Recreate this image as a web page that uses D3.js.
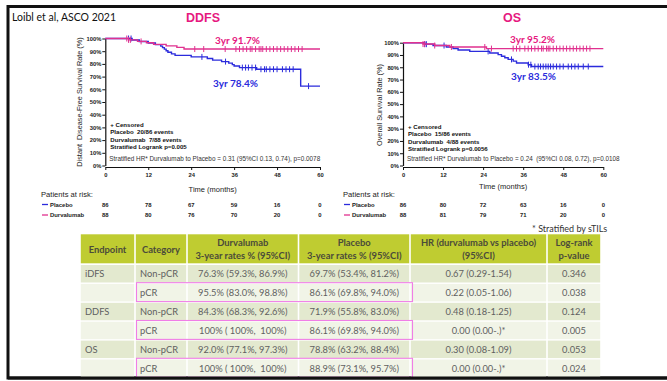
<!DOCTYPE html>
<html><head><meta charset="utf-8">
<script src="https://cdn.jsdelivr.net/npm/d3@7"></script>
<style>body{margin:0;background:#fff}svg{display:block}</style>
</head><body>
<svg id="c" width="667" height="381"></svg>
<script>
// ---------------- DATA ----------------
const monthTicks = [0, 12, 24, 36, 48, 60];
const pctTicks = [0, 10, 20, 30, 40, 50, 60, 70, 80, 90, 100];

// DDFS Kaplan-Meier steps [month, survival %]
const ddfsPlacebo = [[0,100],[7.5,98.8],[9.5,97.6],[12,96.4],[14,95.2],[15.5,94.0],[16,92.8],[16.5,91.6],[17,90.4],[17.5,89.2],[18.5,87.9],[19.5,86.7],[24,85.5],[28.5,84.3],[30,83.0],[32.5,81.8],[34.5,80.6],[35.5,79.4],[36,78.4],[37.5,77.1],[42.3,75.8],[54.6,62.5]];
const ddfsDurvalumab = [[0,100],[6.5,98.9],[9,97.7],[11.5,96.6],[13.5,95.4],[17,94.2],[20,93.0],[22,91.7]];
const ddfsPlaceboCensored = [6.5,7.2,27,33.6,38.3,39.2,40,41,42,43.5,44.5,45,46,47,48,49.5,50.5,51.5,52.5,56.8];
const ddfsDurvalumabCensored = [6,6.5,7,10,25,27.5,33.5,36.5,37.5,38.5,39.5,40.5,41,42,43,43.5,44,45,46,47,48,49,50,51,52,53,54,55];

// OS Kaplan-Meier steps
const osPlacebo = [[0,100],[6.5,98.8],[9,97.7],[13,96.5],[15,95.3],[16.5,94.1],[20,92.9],[26,91.6],[28.5,90.3],[29.5,89.0],[30.5,87.7],[31.5,86.4],[33,85.0],[34,83.5],[37.5,82.1],[38.5,80.6]];
const osDurvalumab = [[0,100],[6,98.9],[9.5,97.7],[14,96.5],[25,95.2]];
const osPlaceboCensored = [6.5,7,12.3,25.5,32.5,37.6,38.3,39.5,40.5,41.2,42,42.8,43.5,44.2,45,46,47,48,49.5,50.5,51.5,52.5,54,55.5];
const osDurvalumabCensored = [6,6.5,9.5,14.5,24.5,26.5,33,34,35,36.5,37.5,38.5,39.5,40.5,41.5,42,43,43.5,44,45,46,47,48,49,50,51,52,53,54,55,56];

// Patients at risk
const riskDdfsPlacebo = [86, 78, 67, 59, 16, 0];
const riskDdfsDurvalumab = [88, 80, 76, 70, 20, 0];
const riskOsPlacebo = [86, 80, 72, 63, 16, 0];
const riskOsDurvalumab = [88, 81, 79, 71, 20, 0];

const ddfsLegend = ["+ Censored", "Placebo  20/86 events", "Durvalumab  7/88 events", "Stratified Logrank p=0.005"];
const ddfsHR = "Stratified HR* Durvalumab to Placebo = 0.31 (95%CI 0.13, 0.74), p=0.0078";
const osLegend = ["+ Censored", "Placebo  15/86 events", "Durvalumab  4/88 events", "Stratified Logrank p=0.0056"];
const osHR = "Stratified HR* Durvalumab to Placebo = 0.24  (95%CI 0.08, 0.72), p=0.0108";

// Table
const tableHeader = [["Endpoint"], ["Category"], ["Durvalumab", "3-year rates % (95%CI)"], ["Placebo", "3-year rates % (95%CI)"], ["HR (durvalumab vs placebo)", "(95%CI)"], ["Log-rank", "p-value"]];
const tableRows = [
  ["iDFS", "Non-pCR", "76.3% (59.3%, 86.9%)", "69.7% (53.4%, 81.2%)", "0.67 (0.29-1.54)", "0.346"],
  ["", "pCR", "95.5% (83.0%, 98.8%)", "86.1% (69.8%, 94.0%)", "0.22 (0.05-1.06)", "0.038"],
  ["DDFS", "Non-pCR", "84.3% (68.3%, 92.6%)", "71.9% (55.8%, 83.0%)", "0.48 (0.18-1.25)", "0.124"],
  ["", "pCR", "100% ( 100%,  100%)", "86.1% (69.8%, 94.0%)", "0.00 (0.00-.)*", "0.005"],
  ["OS", "Non-pCR", "92.0% (77.1%, 97.3%)", "78.8% (63.2%, 88.4%)", "0.30 (0.08-1.09)", "0.053"],
  ["", "pCR", "100% ( 100%,  100%)", "88.9% (73.1%, 95.7%)", "0.00 (0.00-.)*", "0.024"]
];

// ---------------- STYLE ----------------
const BLUE = "#2b2bdc", PINK = "#e0318f", PINK_TXT = "#e6197f";
const SANS = "Liberation Sans, Arial, sans-serif";
const CAL = "Lato, sans-serif";

const svg = d3.select("#c");

// frame
svg.append("path").attr("d", "M667,6.5 H8 V378 H667").attr("fill", "none").attr("stroke", "#111").attr("stroke-width", 3);

svg.append("text").attr("x", 12).attr("y", 21).attr("font-family", CAL).attr("font-size", 10.5).attr("fill", "#111").text("Loibl et al, ASCO 2021");

function stepValue(steps, t) {
  let v = steps[0][1];
  for (const s of steps) { if (s[0] <= t) v = s[1]; }
  return v;
}

function drawKM(cfg) {
  const g = svg.append("g");
  const x = d3.scaleLinear().domain([0, 60]).range([cfg.x0, cfg.x1]);
  const y = d3.scaleLinear().domain([0, 100]).range([cfg.y0, cfg.y1]);

  // title
  g.append("text").attr("x", cfg.titleX).attr("y", 22).attr("text-anchor", "middle")
    .attr("font-family", SANS).attr("font-weight", "bold").attr("font-size", 12.5).attr("fill", PINK_TXT).text(cfg.title);

  // axes
  const ya = g.append("g").attr("transform", `translate(${cfg.x0},0)`)
    .call(d3.axisLeft(y).tickValues(pctTicks).tickFormat(d => d + "%").tickSize(3).tickSizeOuter(0));
  const xa = g.append("g").attr("transform", `translate(0,${cfg.y0 + 1.5})`)
    .call(d3.axisBottom(x).tickValues(monthTicks).tickSize(3).tickSizeOuter(0));
  [ya, xa].forEach(a => {
    a.select(".domain").attr("stroke", "#111").attr("stroke-width", 1.2);
    a.selectAll(".tick line").attr("stroke", "#111").attr("stroke-width", 1);
    a.selectAll("text").attr("font-family", SANS).attr("font-weight", "bold").attr("font-size", 5.8).attr("fill", "#222");
  });
  ya.selectAll("text").attr("x", -4);
  xa.selectAll("text").attr("y", 6);

  // axis titles
  g.append("text").attr("transform", `translate(${cfg.yTitleX},${cfg.yTitleY}) rotate(-90)`)
    .attr("text-anchor", "middle").attr("font-family", SANS).attr("font-size", 7.3).attr("fill", "#222")
    .style("white-space", "pre").text(cfg.yTitle);
  g.append("text").attr("x", (cfg.x0 + cfg.x1) / 2).attr("y", cfg.xTitleY).attr("text-anchor", "middle")
    .attr("font-family", SANS).attr("font-size", 7.5).attr("fill", "#222").text("Time (months)");

  // curves
  const line = d3.line().x(d => x(d[0])).y(d => y(d[1])).curve(d3.curveStepAfter);
  const series = [
    {steps: cfg.placebo, cens: cfg.placeboCens, color: BLUE},
    {steps: cfg.durva, cens: cfg.durvaCens, color: PINK}
  ];
  series.forEach(s => {
    const pts = s.steps.concat([[60, s.steps[s.steps.length - 1][1]]]);
    g.append("path").attr("d", line(pts)).attr("fill", "none").attr("stroke", s.color).attr("stroke-width", 1.4);
    g.selectAll(null).data(s.cens).enter().append("line")
      .attr("x1", d => x(d)).attr("x2", d => x(d))
      .attr("y1", d => y(stepValue(s.steps, d)) - 3).attr("y2", d => y(stepValue(s.steps, d)) + 3)
      .attr("stroke", s.color).attr("stroke-width", 1);
  });

  // annotations
  cfg.notes.forEach(n => {
    g.append("text").attr("x", n.x).attr("y", n.y).attr("font-family", CAL).attr("font-weight", "bold")
      .attr("font-size", 10).attr("fill", n.color).text(n.text);
  });

  // legend block
  cfg.legend.forEach((t, i) => {
    g.append("text").attr("x", cfg.x0 + 5).attr("y", cfg.legendY + i * 7.4).attr("font-family", SANS)
      .attr("font-weight", "bold").attr("font-size", 6.1).attr("fill", "#111").style("white-space", "pre").text(t);
  });
  g.append("text").attr("x", cfg.x0 + 4).attr("y", cfg.hrY).attr("font-family", SANS)
    .attr("font-size", 6.35).attr("fill", "#333").style("white-space", "pre").text(cfg.hr);

  // patients at risk
  g.append("text").attr("x", cfg.riskX).attr("y", 196.5).attr("font-family", SANS).attr("font-size", 7.6)
    .attr("fill", "#222").text("Patients at risk:");
  const rows = [{label: "Placebo", vals: cfg.riskP, color: BLUE, y: 204.5}, {label: "Durvalumab", vals: cfg.riskD, color: PINK, y: 215}];
  rows.forEach(r => {
    g.append("line").attr("x1", cfg.riskX + 1).attr("x2", cfg.riskX + 7).attr("y1", r.y).attr("y2", r.y)
      .attr("stroke", r.color).attr("stroke-width", 1.3);
    g.append("text").attr("x", cfg.riskX + 9).attr("y", r.y + 2).attr("font-family", SANS).attr("font-weight", "bold")
      .attr("font-size", 5.9).attr("fill", "#222").text(r.label);
    g.selectAll(null).data(r.vals).enter().append("text")
      .attr("x", (d, i) => x(monthTicks[i])).attr("y", r.y + 2).attr("text-anchor", "middle")
      .attr("font-family", SANS).attr("font-weight", "bold").attr("font-size", 5.9).attr("fill", "#222").text(d => d);
  });
}

drawKM({
  title: "DDFS", titleX: 203, x0: 105.3, x1: 320, y0: 165.5, y1: 38.5,
  yTitle: "Distant  Disease-Free Survival Rate (%)", yTitleX: 82, yTitleY: 102, xTitleY: 192,
  placebo: ddfsPlacebo, durva: ddfsDurvalumab, placeboCens: ddfsPlaceboCensored, durvaCens: ddfsDurvalumabCensored,
  notes: [{x: 215, y: 43.5, text: "3yr 91.7%", color: PINK_TXT}, {x: 213, y: 86.5, text: "3yr 78.4%", color: BLUE}],
  legend: ddfsLegend, legendY: 127, hr: ddfsHR, hrY: 161,
  riskX: 41, riskP: riskDdfsPlacebo, riskD: riskDdfsDurvalumab
});
drawKM({
  title: "OS", titleX: 512, x0: 403, x1: 603.3, y0: 165.5, y1: 42.7,
  yTitle: "Overall Survival Rate (%)", yTitleX: 382, yTitleY: 105, xTitleY: 189,
  placebo: osPlacebo, durva: osDurvalumab, placeboCens: osPlaceboCensored, durvaCens: osDurvalumabCensored,
  notes: [{x: 510, y: 42.5, text: "3yr 95.2%", color: PINK_TXT}, {x: 511, y: 79.5, text: "3yr 83.5%", color: BLUE}],
  legend: osLegend, legendY: 129, hr: osHR, hrY: 161,
  riskX: 343, riskP: riskOsPlacebo, riskD: riskOsDurvalumab
});

svg.append("text").attr("x", 532).attr("y", 232).attr("font-family", CAL).attr("font-size", 9)
  .attr("fill", "#333").text("* Stratified by sTILs");

// ---------------- TABLE ----------------
const colX = [80, 135, 187, 298.5, 410, 547, 601];
const headTop = 234.3, headH = 30, rowH = 18.9;
const tg = svg.append("g");
const HEAD_FILL = "#bfcc31", ODD = "#e3e9cf", EVEN = "#f1f4e7";

tableHeader.forEach((h, i) => {
  tg.append("rect").attr("x", colX[i] + 0.8).attr("y", headTop).attr("width", colX[i + 1] - colX[i] - 1.6)
    .attr("height", headH - 1).attr("fill", HEAD_FILL);
  const cx = (colX[i] + colX[i + 1]) / 2;
  const t = tg.append("text").attr("text-anchor", "middle").attr("font-family", CAL).attr("font-weight", "bold")
    .attr("font-size", 9.4).attr("fill", "#4b4b3a");
  if (h.length === 1) {
    t.append("tspan").attr("x", cx).attr("y", headTop + 19).text(h[0]);
  } else {
    t.append("tspan").attr("x", cx).attr("y", headTop + 12).text(h[0]);
    t.append("tspan").attr("x", cx).attr("y", headTop + 25).text(h[1]);
  }
});

tableRows.forEach((r, ri) => {
  const y0 = headTop + headH + ri * rowH;
  r.forEach((v, ci) => {
    tg.append("rect").attr("x", colX[ci] + 0.8).attr("y", y0 + 0.7).attr("width", colX[ci + 1] - colX[ci] - 1.6)
      .attr("height", rowH - 1.4).attr("fill", ri % 2 === 0 ? ODD : EVEN);
    const left = ci < 2;
    tg.append("text").attr("x", left ? colX[ci] + 5 : (colX[ci] + colX[ci + 1]) / 2).attr("y", y0 + 13)
      .attr("text-anchor", left ? "start" : "middle").attr("font-family", CAL).attr("font-size", 9.3)
      .attr("fill", "#606060").style("white-space", "pre").text(v);
  });
  if (r[1] === "pCR") {
    tg.append("rect").attr("x", colX[1] + 1.5).attr("y", y0 - 0.5).attr("width", colX[4] - colX[1] + 1)
      .attr("height", rowH).attr("fill", "none").attr("stroke", "#f07ee6").attr("stroke-width", 1.1);
  }
});

// redraw bottom frame over table
svg.append("line").attr("x1", 8).attr("x2", 667).attr("y1", 378).attr("y2", 378).attr("stroke", "#111").attr("stroke-width", 3);
</script>
</body></html>
